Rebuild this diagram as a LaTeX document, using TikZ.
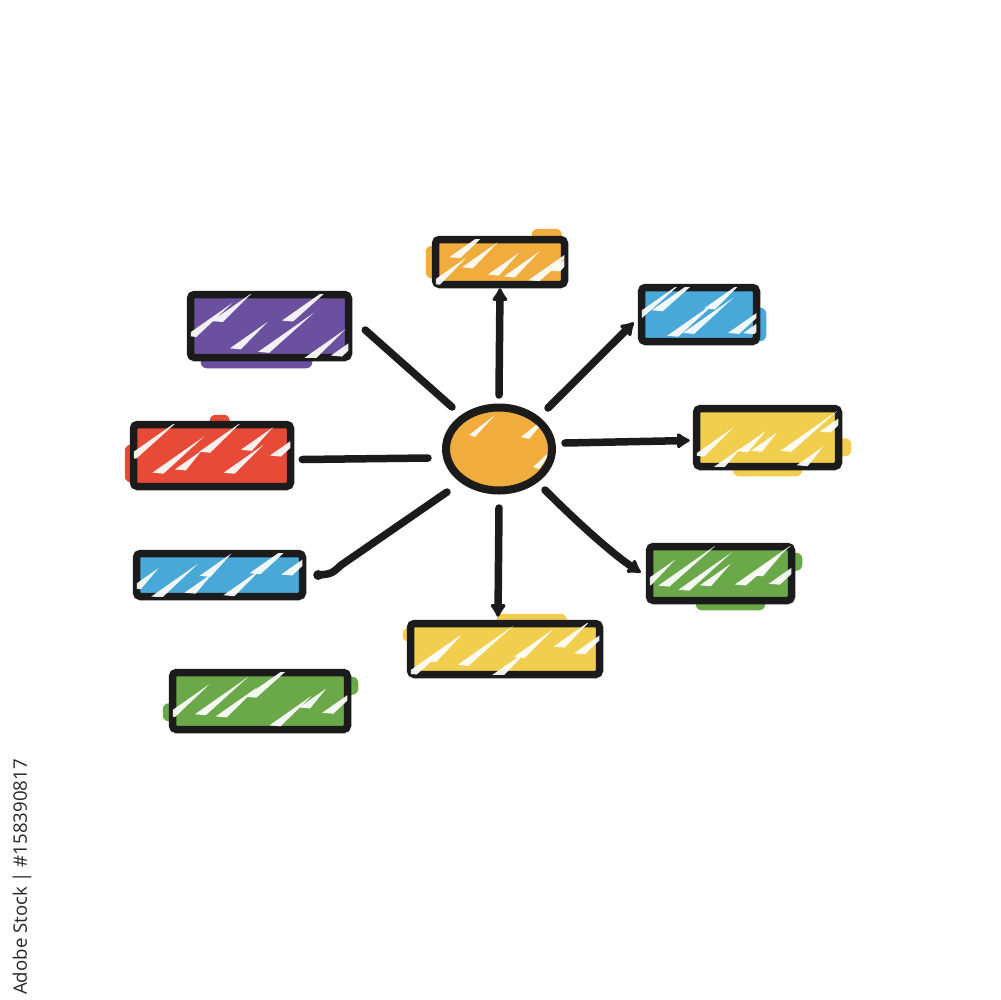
\documentclass[tikz,border=0pt]{standalone}
\usepackage{fontspec}
\newfontfamily\wmfont{Open Sans}
\usetikzlibrary{arrows.meta,calc,shapes.geometric,backgrounds}
\definecolor{ink}{HTML}{1B1B1B}
\definecolor{cOrange}{HTML}{F0AC3C}
\definecolor{cBlue}{HTML}{4AA8D8}
\definecolor{cPurple}{HTML}{6A509E}
\definecolor{cRed}{HTML}{E74A36}
\definecolor{cYellow}{HTML}{F2CE4E}
\definecolor{cGreen}{HTML}{6BA84A}
\tikzset{
  box/.style={draw=ink, line width=0.75mm, rounded corners=0.4mm, inner sep=0pt},
  link/.style={draw=ink, line width=0.75mm, line cap=round},
  arr/.style={link, -{Latex[length=1.5mm,width=1.9mm,round]}},
  spill/.style={rounded corners=0.6mm},
  streak/.style={fill=white, draw=none, opacity=0.92},
}
\newcommand\scrib[4]{%
  \begin{scope}
    \clip ($(#1.south west)+(4,-4)$) rectangle ($(#1.north east)+(-4,4)$);
    \pgfmathsetseed{#4}
    \foreach \k in {1,...,7}{
      \pgfmathsetmacro\xa{(\k-1)*(#2/6.5)-12+14*rnd}
      \pgfmathsetmacro\ya{#3*(0.45+0.65*rnd)}
      \pgfmathsetmacro\ll{25+35*rnd}
      \fill[streak] ($(#1.north west)+(\xa,\ya)$) -- ++({\ll},{-0.7*\ll}) -- ++({-\ll+11},{0.7*\ll+1}) -- cycle;
    }
  \end{scope}}
\begin{document}
\begin{tikzpicture}[x=0.1mm,y=-0.1mm]
\useasboundingbox (0,0) rectangle (1000,1000);

% boxes
\node[box, fill=cOrange, minimum width=12.9mm, minimum height=4.5mm] (top) at (500,262) {};
\node[box, fill=cBlue, minimum width=11.5mm, minimum height=5.4mm] (tr) at (699,314.5) {};
\node[box, fill=cPurple, minimum width=15.8mm, minimum height=6.3mm] (pu) at (269.5,326) {};
\node[box, fill=cRed, minimum width=15.7mm, minimum height=6.2mm] (rd) at (212,455.5) {};
\node[box, fill=cYellow, minimum width=14.2mm, minimum height=5.8mm] (yr) at (767.5,437.5) {};
\node[box, fill=cBlue, minimum width=16.6mm, minimum height=4.3mm] (bl) at (219.5,575) {};
\node[box, fill=cGreen, minimum width=14.2mm, minimum height=5.4mm] (gr) at (720.5,573.5) {};
\node[box, fill=cYellow, minimum width=18.9mm, minimum height=5.1mm] (yb) at (505,649) {};
\node[box, fill=cGreen, minimum width=17.5mm, minimum height=5.7mm] (gb) at (260,701) {};
\node[ellipse, draw=ink, line width=0.8mm, fill=cOrange, minimum width=10.6mm, minimum height=8.3mm, inner sep=0pt] (c) at (499,449) {};

% colour spilling past the outlines
\begin{pgfonlayer}{background}
  \fill[cOrange, spill] ($(top.south west)+(-6,-10)$) rectangle ($(top.north west)+(20,10)$);
  \fill[cOrange, spill] ($(top.north west)+(100,-7)$) rectangle ($(top.north west)+(130,8)$);
  \fill[cBlue, spill] ($(tr.south east)+(-10,-4)$) rectangle ($(tr.north east)+(6,24)$);
  \fill[cPurple, spill] ($(pu.south west)+(14,7)$) rectangle ($(pu.south east)+(-40,-8)$);
  \fill[cRed, spill] ($(rd.south west)+(-5,-8)$) rectangle ($(rd.north west)+(15,24)$);
  \fill[cRed, spill] ($(rd.north west)+(80,-6)$) rectangle ($(rd.north west)+(100,8)$);
  \fill[cYellow, spill] ($(yr.south east)+(-20,-14)$) rectangle ($(yr.south east)+(9,-32)$);
  \fill[cYellow, spill] ($(yr.south west)+(40,6)$) rectangle ($(yr.south east)+(-40,-8)$);
  \fill[cGreen, spill] ($(gr.north east)+(-10,10)$) rectangle ($(gr.north east)+(7,28)$);
  \fill[cGreen, spill] ($(gr.south west)+(50,6)$) rectangle ($(gr.south east)+(-30,-8)$);
  \fill[cYellow, spill] ($(yb.north west)+(-4,22)$) rectangle ($(yb.north west)+(10,8)$);
  \fill[cYellow, spill] ($(yb.north west)+(90,-6)$) rectangle ($(yb.north west)+(160,8)$);
  \fill[cGreen, spill] ($(gb.south west)+(-6,-12)$) rectangle ($(gb.south west)+(10,-30)$);
  \fill[cGreen, spill] ($(gb.north east)+(-10,8)$) rectangle ($(gb.north east)+(7,26)$);
\end{pgfonlayer}

% white scribble streaks
\scrib{top}{129}{45}{11}
\scrib{tr}{115}{54}{23}
\scrib{pu}{158}{63}{37}
\scrib{rd}{157}{62}{41}
\scrib{yr}{142}{58}{53}
\scrib{bl}{166}{43}{67}
\scrib{gr}{142}{54}{71}
\scrib{yb}{189}{51}{83}
\scrib{gb}{175}{57}{97}
\begin{scope}
  \clip (c.center) ellipse (4.9mm and 3.75mm);
  \fill[streak] ($(c)+(22,-12)$) -- ++(30,-24) -- ++(-22,26) -- cycle;
  \fill[streak] ($(c)+(34,18)$) -- ++(22,-20) -- ++(-16,22) -- cycle;
  \fill[streak] ($(c)+(-30,-14)$) -- ++(26,-20) -- ++(-20,22) -- cycle;
\end{scope}

% connectors
\draw[arr] ($(c)+(0,-54)$) -- (top.south);
\draw[arr] ($(c)+(49,-41)$) -- ($(tr.west)+(-4,8)$);
\draw[arr] ($(c)+(66,-6)$) -- ($(yr.west)+(-3,3)$);
\draw[arr] ($(c)+(46,41)$) .. controls ($(c)+(85,80)$) and ($(c)+(118,108)$) .. ($(gr.west)+(-5,-1)$);
\draw[arr] ($(c)+(0,59)$) -- ($(yb.north)+(-7,-3)$);
\draw[link] ($(c)+(-52,43)$) -- ($(bl.east)+(35,-10)$) .. controls ($(bl.east)+(25,-1)$) .. ($(bl.east)+(11,0)$);
\fill[ink] ($(bl.east)+(12,0)$) circle (0.5mm);
\draw[link] ($(c)+(-71,9)$) -- ($(rd.east)+(8,4)$);
\draw[link] ($(c)+(-47,-42)$) -- ($(pu.east)+(13,4)$);

% vertical stock text
\node[rotate=90, font=\wmfont\fontsize{5.3pt}{6pt}\selectfont, text=black!85, inner sep=0pt] (wm) at (22,877) {Adobe Stock | \#158390817};
\end{tikzpicture}
\end{document}
